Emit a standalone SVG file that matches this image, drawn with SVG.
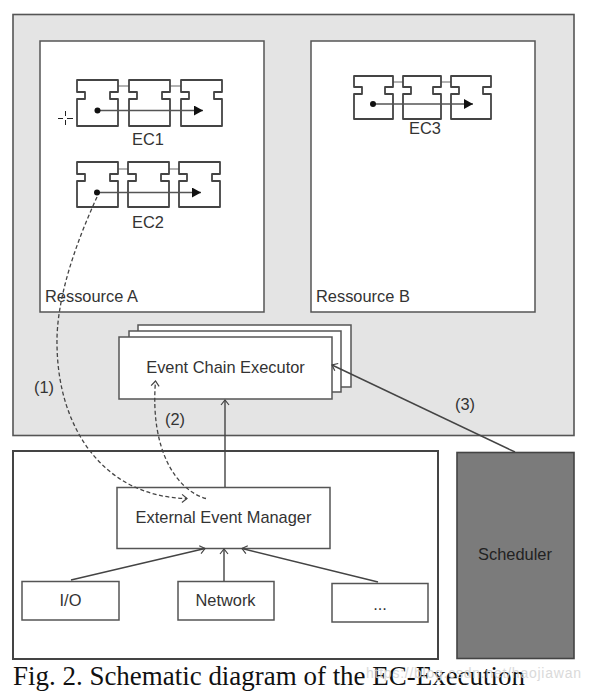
<svg xmlns="http://www.w3.org/2000/svg" width="589" height="691" viewBox="0 0 589 691">
<style>
text{font-family:"Liberation Sans",Arial,sans-serif;fill:#333;font-size:16.400px}
.box{fill:#fff;stroke:#555;stroke-width:1.500}
.piece{fill:#fff;stroke:#444;stroke-width:1.800;stroke-linejoin:round}
.link{fill:none;stroke:#666;stroke-width:1.200}
.flow{fill:none;stroke:#555;stroke-width:1.300}
.arrow{fill:none;stroke:#444;stroke-width:1.400;marker-end:url(#open)}
.dash{fill:none;stroke:#444;stroke-width:1.300;stroke-dasharray:4 2.500}
.m{text-anchor:middle}
</style>
<defs>
<marker id="open" markerUnits="userSpaceOnUse" markerWidth="12" markerHeight="12" refX="9" refY="6" orient="auto">
<path d="M4,2 L9,6 L4,10" fill="none" stroke="#444" stroke-width="1.200"/>
</marker>
<marker id="tip" markerUnits="userSpaceOnUse" markerWidth="12" markerHeight="12" refX="9" refY="5" orient="auto">
<path d="M0,0 L9,5 L0,10 Z" fill="#111"/>
</marker>
</defs>
<rect width="589" height="691" fill="#fff"/>
<g id="main-area"><rect x="13" y="14.500" width="561" height="421" fill="#e4e4e4" stroke="#555" stroke-width="1.600"/></g>
<g id="ressource-a"><rect class="box" x="40" y="41" width="224" height="271"/><text x="45" y="302">Ressource A</text></g>
<g id="ressource-b"><rect class="box" x="311" y="41" width="224" height="271"/><text x="316" y="302">Ressource B</text></g>

<g id="ec1">
<path class="link" d="M118,86H129M170,86H181"/>
<path class="piece" d="M77,80H118V92H110V99H118V126H77V99H85V92H77Z"/>
<path class="piece" d="M129,80H170V92H162V99H170V126H129V99H137V92H129Z"/>
<path class="piece" d="M181,80H222V92H214V99H222V126H181V99H189V92H181Z"/>
<path class="flow" d="M97,110.500H203" marker-end="url(#tip)"/>
<circle cx="97.500" cy="110.500" r="3" fill="#111"/>
<text class="m" x="148" y="144.500">EC1</text>
</g>
<g id="ec2">
<path class="link" d="M118,169H128M169,169H179"/>
<path class="piece" d="M77,162H118V174H110V181H118V207H77V181H85V174H77Z"/>
<path class="piece" d="M128,162H169V174H161V181H169V207H128V181H136V174H128Z"/>
<path class="piece" d="M179,162H220V174H212V181H220V207H179V181H187V174H179Z"/>
<path class="flow" d="M97,192.500H201" marker-end="url(#tip)"/>
<circle cx="97" cy="192.500" r="3" fill="#111"/>
<text class="m" x="148" y="227.500">EC2</text>
</g>
<g id="ec3">
<path class="link" d="M393,82H403M441,82H451"/>
<path class="piece" d="M354,76H393V87H385V94H393V119H354V94H362V87H354Z"/>
<path class="piece" d="M403,76H441V87H433V94H441V119H403V94H411V87H403Z"/>
<path class="piece" d="M451,76H491V87H483V94H491V119H451V94H459V87H451Z"/>
<path class="flow" d="M373,104H473" marker-end="url(#tip)"/>
<circle cx="373" cy="104" r="3" fill="#111"/>
<text class="m" x="425" y="134">EC3</text>
</g>
<g id="cursor"><path d="M58,118.500H63M67,118.500H73M65.500,111V116M65.500,120V125" fill="none" stroke="#222" stroke-width="1"/></g>

<g id="event-chain-executor">
<rect class="box" x="138" y="325" width="213" height="62"/>
<rect class="box" x="129" y="331" width="212" height="61"/>
<rect class="box" x="119" y="337" width="213" height="62"/>
<text class="m" x="225.500" y="373">Event Chain Executor</text>
</g>
<g id="lower-area"><rect x="13" y="451" width="425" height="208" fill="#fff" stroke="#444" stroke-width="2"/></g>
<g id="external-event-manager"><rect class="box" x="117" y="487.500" width="213" height="61"/><text class="m" x="223.500" y="523">External Event Manager</text></g>
<g id="io"><rect class="box" x="22" y="581.500" width="97" height="38.500"/><text class="m" x="70.500" y="606">I/O</text></g>
<g id="network"><rect class="box" x="178" y="581.500" width="96" height="38.500"/><text class="m" x="225.500" y="606">Network</text></g>
<g id="more"><rect class="box" x="332" y="583.500" width="96" height="38.500"/><text class="m" x="380" y="610">...</text></g>
<g id="scheduler"><rect x="457" y="452.500" width="117" height="206" fill="#7b7b7b" stroke="#444" stroke-width="1.600"/><text class="m" x="515" y="560" style="fill:#222">Scheduler</text></g>

<g id="connectors">
<path class="arrow" d="M225,487V400"/>
<path class="arrow" d="M224,581V549"/>
<path class="arrow" d="M71,580L205,548.500"/>
<path class="arrow" d="M378,582L242,548.500"/>
<path class="arrow" d="M515,452L332,365"/>
<path class="dash" d="M97,197C75,245 56,300 57,345C58,430 105,497 187,498.500" marker-end="url(#open)"/>
<path class="dash" d="M206,498.500C176,490 150,450 155.500,381" marker-end="url(#open)"/>
</g>
<g id="labels">
<text x="34" y="393">(1)</text>
<text x="165" y="425">(2)</text>
<text x="455" y="410">(3)</text>
</g>
<text id="caption" x="13" y="685" style="font-family:'Liberation Serif','Times New Roman',serif;fill:#111;font-size:27px" textLength="512" lengthAdjust="spacingAndGlyphs">Fig. 2. Schematic diagram of the EC-Execution</text>
<text id="watermark" x="366" y="678" style="fill:#d4d4d4;font-size:14px;opacity:.85" textLength="215">https://blog.csdn.net/haojiawan</text>
</svg>
